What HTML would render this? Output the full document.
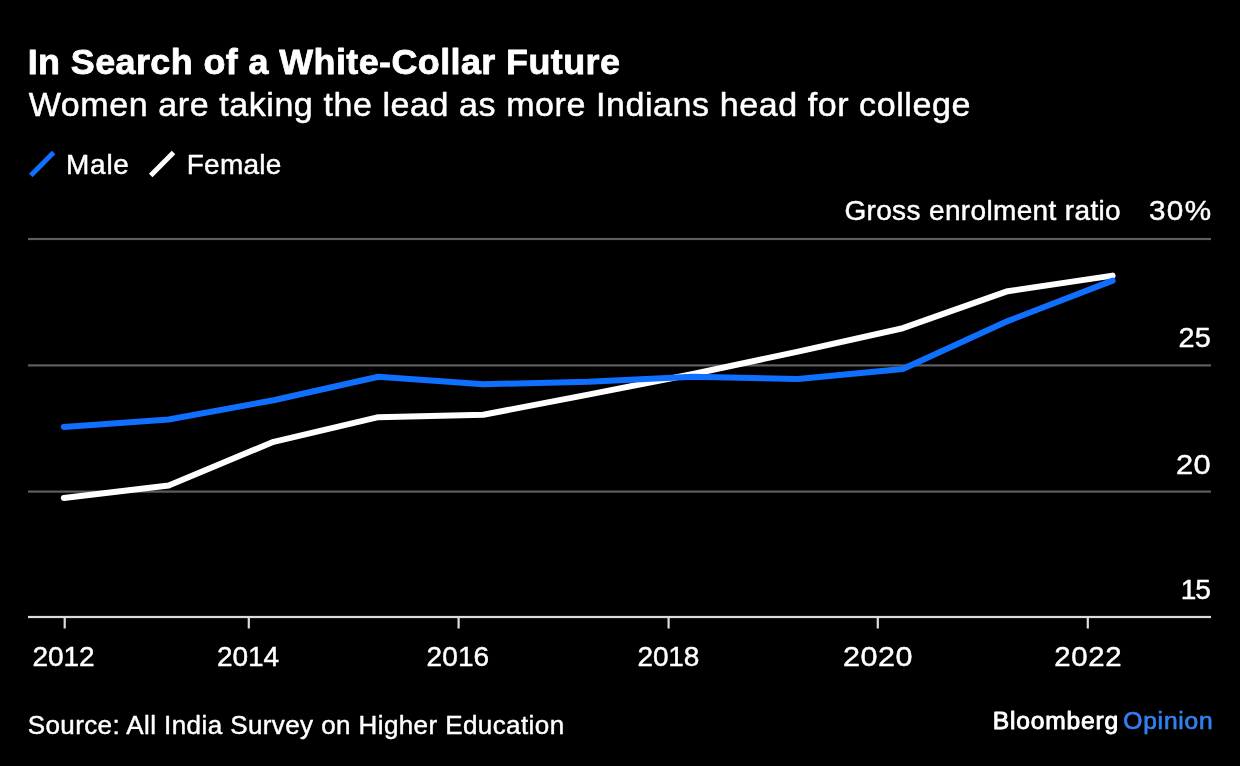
<!DOCTYPE html>
<html lang="en"><head><meta charset="utf-8"><title>In Search of a White-Collar Future</title>
<style>
html,body{margin:0;padding:0;background:#000;}
body{width:1240px;height:766px;overflow:hidden;}
svg{display:block}
text{font-family:"Liberation Sans",Arial,Helvetica,sans-serif}
</style></head><body>
<svg width="1240" height="766" viewBox="0 0 1240 766">
<rect width="1240" height="766" fill="#000"/>
<line x1="30.8" y1="175.4" x2="53.6" y2="152.6" stroke="#0f70ff" stroke-width="5"/>
<line x1="150.7" y1="175.4" x2="173.5" y2="152.6" stroke="#fff" stroke-width="5"/>
<rect x="28" y="237.9" width="1183" height="2.2" fill="#5e5e5e"/>
<rect x="28" y="364.3" width="1183" height="2.2" fill="#5e5e5e"/>
<rect x="28" y="490.5" width="1183" height="2.2" fill="#5e5e5e"/>
<rect x="28" y="615.9" width="1183" height="2.2" fill="#dcdcdc"/>
<rect x="63.6" y="617" width="2.2" height="11.5" fill="#dcdcdc"/>
<rect x="247.7" y="617" width="2.2" height="11.5" fill="#dcdcdc"/>
<rect x="457.5" y="617" width="2.2" height="11.5" fill="#dcdcdc"/>
<rect x="667.5" y="617" width="2.2" height="11.5" fill="#dcdcdc"/>
<rect x="876.7" y="617" width="2.2" height="11.5" fill="#dcdcdc"/>
<rect x="1086.7" y="617" width="2.2" height="11.5" fill="#dcdcdc"/>
<polyline points="63.8,498.0 168.7,485.4 273.6,441.8 378.4,417.2 483.3,414.8 588.2,394.6 693.1,374.0 798.0,351.6 902.8,328.2 1007.7,291.2 1112.6,275.6" fill="none" stroke="#fff" stroke-width="6" stroke-linecap="round" stroke-linejoin="round"/>
<polyline points="63.8,426.9 168.7,419.5 273.6,400.2 378.4,376.8 483.3,384.2 588.2,381.8 693.1,376.8 798.0,379.0 902.8,369.0 1007.7,321.1 1112.6,280.6" fill="none" stroke="#0f70ff" stroke-width="6" stroke-linecap="round" stroke-linejoin="round"/>
<text x="27.70" y="73.8" font-size="35.9" font-weight="700" letter-spacing="0.420" fill="#fff" stroke="#fff" stroke-width="0.8" stroke-linejoin="round">In Search of a White-Collar Future</text>
<text x="28.80" y="115.6" font-size="34.0" font-weight="400" letter-spacing="0.580" fill="#fff" stroke="#fff" stroke-width="0.5" stroke-linejoin="round">Women are taking the lead as more Indians head for college</text>
<text x="66.00" y="173.8" font-size="28.0" font-weight="400" letter-spacing="0.740" fill="#fff" stroke="#fff" stroke-width="0.45" stroke-linejoin="round">Male</text>
<text x="186.75" y="173.8" font-size="28.0" font-weight="400" letter-spacing="0.263" fill="#fff" stroke="#fff" stroke-width="0.45" stroke-linejoin="round">Female</text>
<text x="844.39" y="219.8" font-size="28.0" font-weight="400" letter-spacing="0.354" fill="#fff" stroke="#fff" stroke-width="0.45" stroke-linejoin="round">Gross enrolment ratio</text>
<text transform="translate(1148.95 220.0) scale(1.06 1)" font-size="28.0" font-weight="400" letter-spacing="1.292" fill="#fff" stroke="#fff" stroke-width="0.45" stroke-linejoin="round">30%</text>
<text transform="translate(1178.44 347.1) scale(1.03 1)" font-size="28.0" font-weight="400" letter-spacing="0.365" fill="#fff" stroke="#fff" stroke-width="0.45" stroke-linejoin="round">25</text>
<text transform="translate(1175.99 473.9) scale(1.1 1)" font-size="28.0" font-weight="400" letter-spacing="0.427" fill="#fff" stroke="#fff" stroke-width="0.45" stroke-linejoin="round">20</text>
<text x="1180.74" y="599.0" font-size="28.0" font-weight="400" letter-spacing="-1.035" fill="#fff" stroke="#fff" stroke-width="0.45" stroke-linejoin="round">15</text>
<text x="27.67" y="733.8" font-size="26.0" font-weight="400" letter-spacing="0.409" fill="#fff" stroke="#fff" stroke-width="0.45" stroke-linejoin="round">Source: All India Survey on Higher Education</text>
<text x="992.86" y="729.4" font-size="24.6" font-weight="400" letter-spacing="0.809" fill="#fff" stroke="#fff" stroke-width="0.9" stroke-linejoin="round">Bloomberg</text>
<text x="1123.22" y="729.4" font-size="24.6" font-weight="400" letter-spacing="0.795" fill="#3380f0" stroke="#3380f0" stroke-width="0.7" stroke-linejoin="round">Opinion</text>
<text x="32.55" y="666.0" font-size="28.0" font-weight="400" letter-spacing="-0.121" fill="#fff" stroke="#fff" stroke-width="0.45" stroke-linejoin="round">2012</text>
<text x="217.05" y="666.0" font-size="28.0" font-weight="400" letter-spacing="-0.084" fill="#fff" stroke="#fff" stroke-width="0.45" stroke-linejoin="round">2014</text>
<text x="426.55" y="666.0" font-size="28.0" font-weight="400" letter-spacing="0.116" fill="#fff" stroke="#fff" stroke-width="0.45" stroke-linejoin="round">2016</text>
<text x="637.45" y="666.0" font-size="28.0" font-weight="400" letter-spacing="-0.130" fill="#fff" stroke="#fff" stroke-width="0.45" stroke-linejoin="round">2018</text>
<text transform="translate(842.90 666.0) scale(1.09 1)" font-size="28.0" font-weight="400" letter-spacing="0.512" fill="#fff" stroke="#fff" stroke-width="0.45" stroke-linejoin="round">2020</text>
<text transform="translate(1054.32 666.0) scale(1.05 1)" font-size="28.0" font-weight="400" letter-spacing="0.624" fill="#fff" stroke="#fff" stroke-width="0.45" stroke-linejoin="round">2022</text>
</svg></body></html>
